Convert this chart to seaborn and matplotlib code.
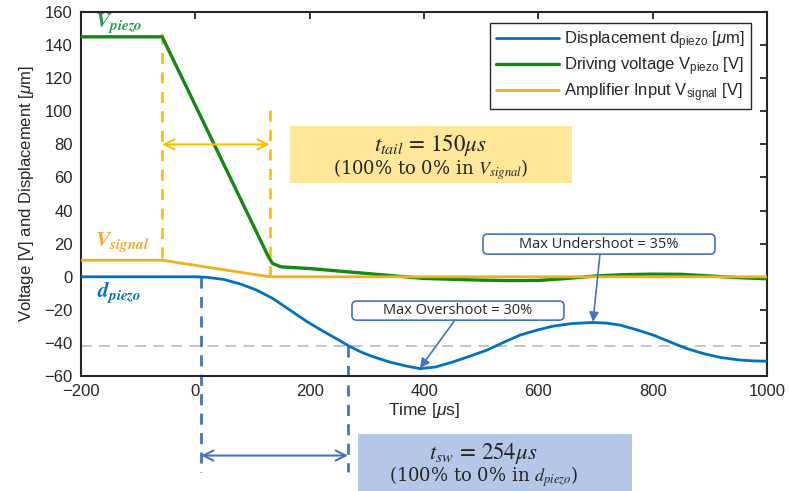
import numpy as np
import pandas as pd
import seaborn as sns
import matplotlib.pyplot as plt
from matplotlib.patches import Rectangle, FancyBboxPatch

# Values
time_d = [-200, 0, 20, 50, 80, 107, 135, 165, 195, 224, 250, 268, 290, 311, 340, 370, 393,
          420, 451, 480, 510, 540, 568, 600, 626, 660, 696, 720, 743, 770, 801, 830, 859,
          890, 918, 950, 976, 1000]
disp = [0, 0, -0.3, -1.6, -4.5, -8, -13, -20, -27, -33, -38, -41.7, -45.5, -48.3, -51.5, -54, -55.5,
        -54.5, -51.4, -48, -44.3, -39.5, -35.2, -32, -29.8, -28.2, -27.6, -28, -29.2, -31.8, -35.2, -39.3, -43.3,
        -46.5, -48.7, -50.2, -50.8, -51]

time_v = [-200, -58, 128, 135, 150, 200, 250, 300, 350, 400, 450, 500, 550, 600, 650,
          700, 750, 800, 850, 900, 950, 1000]
v_piezo = [145, 145, 12, 8, 6, 5, 3.5, 2, 0.5, -1, -1.5, -2, -2.3, -2.2, -1,
           0.5, 1.3, 1.6, 1.5, 0.5, -0.5, -1.2]

time_s = [-200, -58, 130, 1000]
v_signal = [10, 10, 0, 0]

t_tail_start, t_tail_end = -58, 130
t_sw_start, t_sw_end = 10, 267
threshold = -42

sns.set_style("white")
plt.rcParams["font.family"] = ["Liberation Sans", "DejaVu Sans"]
plt.rcParams["mathtext.fontset"] = "custom"
plt.rcParams["mathtext.rm"] = "Liberation Sans"
plt.rcParams["mathtext.it"] = "Liberation Sans:italic"
plt.rcParams["mathtext.bf"] = "Liberation Sans:bold"

blue, green, orange = "#0072BD", "#128A12", "#EDB120"
dash_orange, dash_blue = "#FFC000", "#4472C4"

df_d = pd.DataFrame({"t": time_d, "y": disp})
df_v = pd.DataFrame({"t": time_v, "y": v_piezo})
df_s = pd.DataFrame({"t": time_s, "y": v_signal})

fig = plt.figure(figsize=(7.89, 4.91), dpi=100)
ax = fig.add_axes([0.1027, 0.234, 0.8694, 0.7416])

sns.lineplot(data=df_d, x="t", y="y", ax=ax, color=blue, lw=2, zorder=4,
             label=r"Displacement d$_{\rm piezo}$ [$\mu$m]")
sns.lineplot(data=df_v, x="t", y="y", ax=ax, color=green, lw=2.4, zorder=3,
             label=r"Driving voltage V$_{\rm piezo}$ [V]")
sns.lineplot(data=df_s, x="t", y="y", ax=ax, color=orange, lw=2, zorder=3,
             label=r"Amplifier Input V$_{\rm signal}$ [V]")

ax.axhline(threshold, color="#BFBFBF", ls=(0, (6, 4)), lw=1.3, zorder=1)

# t_tail markers
ax.plot([t_tail_start, t_tail_start], [147, 7], color=dash_orange, ls=(0, (4, 3)), lw=2, zorder=2)
ax.plot([t_tail_end, t_tail_end], [101, 0], color=dash_orange, ls=(0, (4, 3)), lw=2, zorder=2)
ax.annotate("", xy=(t_tail_end, 80), xytext=(t_tail_start, 80),
            arrowprops=dict(arrowstyle="<->", color=dash_orange, lw=1.5,
                            shrinkA=0, shrinkB=0, mutation_scale=18))

# t_sw markers (below axes)
ax.plot([t_sw_start, t_sw_start], [0, -118], color=dash_blue, ls=(0, (4, 3)), lw=2,
        clip_on=False, zorder=2)
ax.plot([t_sw_end, t_sw_end], [threshold, -118], color=dash_blue, ls=(0, (4, 3)), lw=2,
        clip_on=False, zorder=2)
ax.annotate("", xy=(t_sw_end, -108), xytext=(t_sw_start, -108), annotation_clip=False,
            arrowprops=dict(arrowstyle="<->", color=dash_blue, lw=1.5,
                            shrinkA=0, shrinkB=0, mutation_scale=18))

# text boxes
serif = ["DejaVu Serif"]
ax.add_patch(Rectangle((165.6, 56.6), 493.2, 34.5, fc="#FFE699", ec="none", zorder=1))
ax.text(412, 79.5, r"$t_{tail}\,=\,150\mu s$", ha="center", va="center", fontsize=16.5,
        math_fontfamily="stix", zorder=5)
ax.text(412, 65, r"(100% to 0% in $V_{signal}$)", ha="center", family=serif,
        va="center", fontsize=13, math_fontfamily="stix", zorder=5)

ax.add_patch(Rectangle((284.5, -129.5), 479.3, 34.5, fc="#B4C7E7", ec="none",
                       clip_on=False, zorder=1))
ax.text(504, -106.5, r"$t_{sw}\,=\,254\mu s$", ha="center", va="center", fontsize=16.5,
        math_fontfamily="stix", clip_on=False)
ax.text(504, -121, r"(100% to 0% in $d_{piezo}$)", ha="center", family=serif,
        va="center", fontsize=13, math_fontfamily="stix", clip_on=False)

# overshoot / undershoot callouts
for (x0, y0, w, h), txt, start, tip in [
        ((503.2, 13.7, 405.8, 12.1), "Max Undershoot = 35%", (707.8, 13.7), (695.6, -27.2)),
        ((274, -26.2, 370.8, 11.5), "Max Overshoot = 30%", (454, -26.2), (393, -55.2))]:
    ax.add_patch(FancyBboxPatch((x0, y0), w, h, boxstyle="round,pad=0,rounding_size=8",
                                mutation_aspect=0.345, fc="white", ec=dash_blue, lw=1.2, zorder=5))
    ax.text(x0 + w / 2, y0 + h / 2, txt, ha="center", va="center", fontsize=10.5,
            family=["Open Sans", "DejaVu Sans"], zorder=6)
    ax.annotate("", xy=tip, xytext=start,
                arrowprops=dict(arrowstyle="-|>", color=dash_blue, lw=1.2,
                                shrinkA=0, shrinkB=0, mutation_scale=14), zorder=6)

# curve labels
ax.text(-176, 153, r"$\mathbfit{V}_{\mathbfit{piezo}}$", color="#1E9E50", fontsize=15.5,
        math_fontfamily="stix", va="center")
ax.text(-176, 20.5, r"$\mathbfit{V}_{\mathbfit{signal}}$", color="#F5A834", fontsize=15.5,
        math_fontfamily="stix", va="center")
ax.text(-172, -10, r"$\mathbfit{d}_{\mathbfit{piezo}}$", color=blue, fontsize=15.5,
        math_fontfamily="stix", va="center")

ax.set_xlim(-200, 1000)
ax.set_ylim(-60, 160)
ax.set_xticks(np.arange(-200, 1001, 200))
ax.set_yticks(np.arange(-60, 161, 20))
ax.tick_params(direction="in", top=True, right=True, length=5, width=1.3,
               labelsize=12, colors="#262626", pad=6)
for s in ax.spines.values():
    s.set_color("#262626")
    s.set_linewidth(1.5)
ax.set_xlabel(r"Time [$\mu$s]", fontsize=12.5, color="#262626", labelpad=1)
ax.set_ylabel(r"Voltage [V] and Displacement [$\mu$m]", fontsize=12, color="#262626", labelpad=6)

leg = ax.legend(loc="upper right", bbox_to_anchor=(0.976, 0.969), borderaxespad=0,
                fontsize=12, frameon=True, fancybox=False, framealpha=1,
                edgecolor="#262626", handlelength=3.8, labelspacing=0.2,
                handletextpad=0.3, borderpad=0.35)
leg.get_frame().set_linewidth(1)

plt.savefig("out.png", dpi=100)
